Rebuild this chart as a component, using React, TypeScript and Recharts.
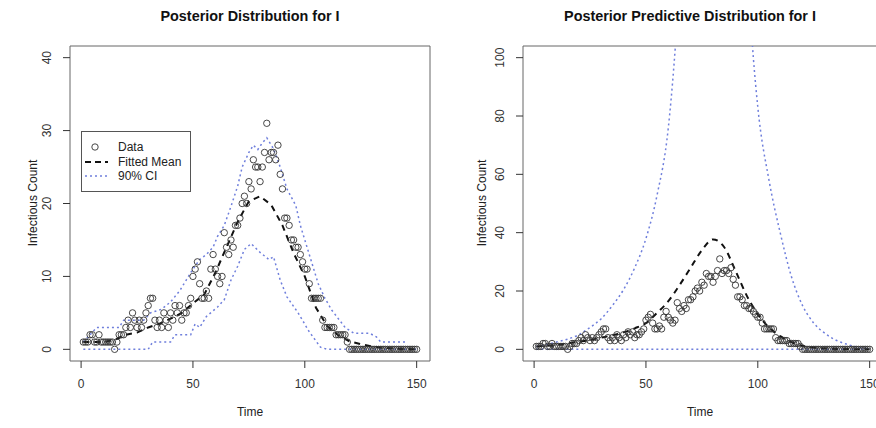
import { ComposedChart, Scatter, Line, XAxis, YAxis, ReferenceArea, Legend, Customized } from "recharts"

// observed infectious counts, one per day
const TIME = Array.from({ length: 150 }, (_, i) => i + 1)
const OBSERVED = [
  1, 1, 1, 2, 2, 1, 1, 2, 1, 1,
  1, 1, 1, 1, 0, 1, 2, 2, 2, 3,
  4, 3, 5, 4, 3, 4, 3, 4, 5, 6,
  7, 7, 4, 3, 4, 3, 5, 4, 3, 5,
  4, 6, 5, 6, 4, 5, 5, 6, 7, 10,
  11, 12, 9, 7, 7, 8, 7, 11, 13, 11,
  10, 9, 10, 16, 14, 13, 15, 14, 17, 17,
  18, 20, 21, 20, 23, 22, 26, 25, 25, 23,
  25, 27, 31, 26, 27, 27, 26, 28, 24, 22,
  18, 18, 17, 15, 15, 14, 14, 13, 12, 11,
  11, 9, 7, 7, 7, 7, 7, 4, 3, 3,
  3, 3, 3, 2, 2, 2, 2, 2, 1, 0,
  0, 0, 0, 0, 0, 0, 0, 0, 0, 0,
  0, 0, 0, 0, 0, 0, 0, 0, 0, 0,
  0, 0, 0, 0, 0, 0, 0, 0, 0, 0,
]

// left panel: posterior mean and 90% band
const POST_MEAN_T = [1, 5, 10, 15, 20, 25, 30, 35, 40, 45, 50, 55, 60, 65, 70, 75, 80, 85, 90, 95, 100, 105, 110, 115, 120, 125, 130, 135, 140, 145, 150]
const POST_MEAN_V = [1, 1, 1, 1.3, 2, 2.3, 3, 3.5, 4.2, 5, 6.3, 7.5, 10.5, 14, 17.5, 20.3, 21, 19.8, 17, 13.2, 10, 5.7, 3.2, 1.9, 1.1, 0.7, 0.4, 0.2, 0.1, 0.05, 0]

const POST_HI_T = [1, 4, 7, 17, 19, 28, 31, 36, 40, 44, 47, 50, 53, 56, 59, 61, 64, 67, 70, 72, 75, 77, 79, 81, 83, 86, 89, 92, 96, 98, 101, 104, 106, 109, 112, 118, 122, 129, 132, 134, 146]
const POST_HI_V = [1, 2, 3, 3, 4, 4, 5, 5.5, 6.5, 8, 9.5, 11, 12.3, 13, 14, 15.5, 17, 19.6, 22.4, 25, 27, 28, 27.4, 28.3, 29, 27.5, 25, 22, 19.7, 17, 14, 11, 9, 7, 5.4, 3, 2.2, 2.2, 1.7, 1, 1]

const POST_LO_T = [1, 30, 32, 40, 42, 49, 51, 53, 56, 61, 64, 67, 70, 73, 76, 80, 84, 86, 89, 92, 97, 102, 107, 110, 150]
const POST_LO_V = [0, 0, 1, 1, 2, 2, 3.5, 3, 4.5, 5.8, 6.8, 9.5, 11.4, 13.7, 14.5, 13.3, 12.3, 12.7, 9.5, 7.2, 5, 2.4, 0.3, 0, 0]

// right panel: posterior predictive mean and 90% band
const PRED_MEAN_T = [1, 5, 10, 15, 20, 25, 30, 35, 40, 45, 50, 55, 60, 65, 70, 75, 80, 85, 90, 95, 100, 105, 110, 115, 120, 125, 130, 140, 150]
const PRED_MEAN_V = [1, 1.2, 1.5, 2, 2.6, 3.2, 4, 4.8, 5.8, 7.2, 9, 12.5, 16.5, 22, 28, 34, 37.7, 35, 27, 18.5, 12, 7.5, 4.5, 2.5, 1.2, 0.6, 0.3, 0.1, 0]

const PRED_HI_T = [1, 5, 10, 15, 20, 25, 30, 35, 40, 45, 50, 55, 60, 65, 70, 75, 80, 85, 90, 95, 98, 100, 105, 110, 115, 120, 125, 130, 135, 140, 145, 150]
const PRED_HI_V = [1, 1.5, 2.5, 3.5, 5, 7.5, 10.5, 15, 20.5, 28, 38, 53, 76, 125, 200, 260, 280, 250, 190, 135, 100, 83, 58, 40, 25, 15, 9, 5.5, 3.1, 1.7, 0.7, 0.3]

const PRED_LO_T = [1, 150]
const PRED_LO_V = [0, 0]

const X_TICKS = [0, 50, 100, 150]
const LEFT_Y_TICKS = [0, 10, 20, 30, 40]
const RIGHT_Y_TICKS = [0, 20, 40, 60, 80, 100]

const FONT = "'Liberation Sans', Arial, Helvetica, sans-serif"
const CI_BLUE = "#6f7fdc"
const X_DOMAIN: [number, number] = [-4.96, 155.96]
const LEFT_Y_DOMAIN: [number, number] = [-1.6, 41.6]
const RIGHT_Y_DOMAIN: [number, number] = [-4, 104]

const pairs = (ts: number[], vs: number[]) => ts.map((t, i) => ({ t, v: vs[i] }))

const obsData = TIME.map((t, i) => ({ t, v: OBSERVED[i] }))

const OpenCircle = (props: any) => (
  <circle cx={props.cx} cy={props.cy} r={3.2} fill="none" stroke="#333" strokeWidth={0.9} />
)

const XTick = (props: any) => (
  <text x={props.x} y={388} textAnchor="middle" fontSize={12} fill="#333" fontFamily={FONT}>
    {props.payload.value}
  </text>
)

const makeYTick = (baseX: number) => (props: any) => (
  <text
    transform={`translate(${baseX},${props.y}) rotate(-90)`}
    textAnchor="middle"
    fontSize={12}
    fill="#333"
    fontFamily={FONT}
  >
    {props.payload.value}
  </text>
)

const LegendBox = () => (
  <svg width={110} height={61} style={{ display: "block" }}>
    <rect x={0.5} y={0.5} width={109} height={60} fill="#fff" stroke="#555" />
    <circle cx={14} cy={16} r={3.2} fill="none" stroke="#333" strokeWidth={0.9} />
    <text x={37} y={20} fontSize={12} fill="#222" fontFamily={FONT}>Data</text>
    <line x1={4} x2={27} y1={31} y2={31} stroke="#111" strokeWidth={2} strokeDasharray="6 4" />
    <text x={37} y={35} fontSize={12} fill="#222" fontFamily={FONT}>Fitted Mean</text>
    <line x1={4} x2={27} y1={45} y2={45} stroke={CI_BLUE} strokeWidth={1.5} strokeDasharray="2 3" />
    <text x={37} y={49} fontSize={12} fill="#222" fontFamily={FONT}>90% CI</text>
  </svg>
)

const Labels = ({ title, titleX, timeX, countX }: { title: string; titleX: number; timeX: number; countX: number }) => (
  <g fontFamily={FONT}>
    <text x={titleX} y={21} textAnchor="middle" fontSize={14.4} fontWeight="bold" fill="#111">{title}</text>
    <text x={timeX} y={416} textAnchor="middle" fontSize={12} fill="#222">Time</text>
    <text transform={`translate(${countX},203) rotate(-90)`} textAnchor="middle" fontSize={12} fill="#222">
      Infectious Count
    </text>
  </g>
)

function PosteriorPanel() {
  return (
    <ComposedChart width={440} height={428} margin={{ top: 46, right: 10, bottom: 0, left: 30 }}>
      <XAxis
        dataKey="t"
        type="number"
        domain={X_DOMAIN}
        ticks={X_TICKS}
        allowDataOverflow
        axisLine={false}
        tickLine={{ stroke: "#333" }}
        tickSize={7}
        tick={XTick}
        height={67}
      />
      <YAxis
        type="number"
        domain={LEFT_Y_DOMAIN}
        ticks={LEFT_Y_TICKS}
        allowDataOverflow
        axisLine={false}
        tickLine={{ stroke: "#333" }}
        tickSize={7}
        tick={makeYTick(51.3)}
        width={40}
      />
      <ReferenceArea x1={X_DOMAIN[0]} x2={X_DOMAIN[1]} y1={LEFT_Y_DOMAIN[0]} y2={LEFT_Y_DOMAIN[1]} fill="none" stroke="#666" ifOverflow="visible" />
      <Line data={pairs(POST_HI_T, POST_HI_V)} dataKey="v" type="linear" stroke={CI_BLUE} strokeWidth={1.5} strokeDasharray="2 3" dot={false} isAnimationActive={false} />
      <Line data={pairs(POST_LO_T, POST_LO_V)} dataKey="v" type="linear" stroke={CI_BLUE} strokeWidth={1.5} strokeDasharray="2 3" dot={false} isAnimationActive={false} />
      <Line data={pairs(POST_MEAN_T, POST_MEAN_V)} dataKey="v" type="linear" stroke="#111" strokeWidth={2} strokeDasharray="6 5" dot={false} isAnimationActive={false} />
      <Scatter data={obsData} dataKey="v" shape={OpenCircle} isAnimationActive={false} />
      <Legend
        layout="horizontal"
        verticalAlign="middle"
        align="center"
        wrapperStyle={{ position: "absolute", left: 81, top: 131, width: 110, height: 61 }}
        content={() => <LegendBox />}
      />
      <Customized component={() => <Labels title="Posterior Distribution for I" titleX={250} timeX={250} countX={37} />} />
    </ComposedChart>
  )
}

function PredictivePanel() {
  return (
    <ComposedChart width={450} height={428} margin={{ top: 46, right: 7, bottom: 0, left: 43 }}>
      <XAxis
        dataKey="t"
        type="number"
        domain={X_DOMAIN}
        ticks={X_TICKS}
        allowDataOverflow
        axisLine={false}
        tickLine={{ stroke: "#333" }}
        tickSize={7}
        tick={XTick}
        height={67}
      />
      <YAxis
        type="number"
        domain={RIGHT_Y_DOMAIN}
        ticks={RIGHT_Y_TICKS}
        allowDataOverflow
        axisLine={false}
        tickLine={{ stroke: "#333" }}
        tickSize={7}
        tick={makeYTick(64.3)}
        width={40}
      />
      <ReferenceArea x1={X_DOMAIN[0]} x2={X_DOMAIN[1]} y1={RIGHT_Y_DOMAIN[0]} y2={RIGHT_Y_DOMAIN[1]} fill="none" stroke="#666" ifOverflow="visible" />
      <Line data={pairs(PRED_HI_T, PRED_HI_V)} dataKey="v" type="monotone" stroke={CI_BLUE} strokeWidth={1.5} strokeDasharray="2 3" dot={false} isAnimationActive={false} />
      <Line data={pairs(PRED_LO_T, PRED_LO_V)} dataKey="v" type="linear" stroke={CI_BLUE} strokeWidth={1.5} strokeDasharray="2 3" dot={false} isAnimationActive={false} />
      <Line data={pairs(PRED_MEAN_T, PRED_MEAN_V)} dataKey="v" type="monotone" stroke="#111" strokeWidth={2} strokeDasharray="6 5" dot={false} isAnimationActive={false} />
      <Scatter data={obsData} dataKey="v" shape={OpenCircle} isAnimationActive={false} />
      <Customized component={() => <Labels title="Posterior Predictive Distribution for I" titleX={250} timeX={260} countX={46} />} />
    </ComposedChart>
  )
}

export default function App() {
  return (
    <div
      style={{
        position: "absolute",
        left: 0,
        top: 0,
        width: 876,
        height: 428,
        overflow: "hidden",
        background: "#fff",
        fontFamily: FONT,
      }}
    >
      <div style={{ position: "absolute", left: 0, top: 0 }}>
        <PosteriorPanel />
      </div>
      <div style={{ position: "absolute", left: 440, top: 0 }}>
        <PredictivePanel />
      </div>
    </div>
  )
}
